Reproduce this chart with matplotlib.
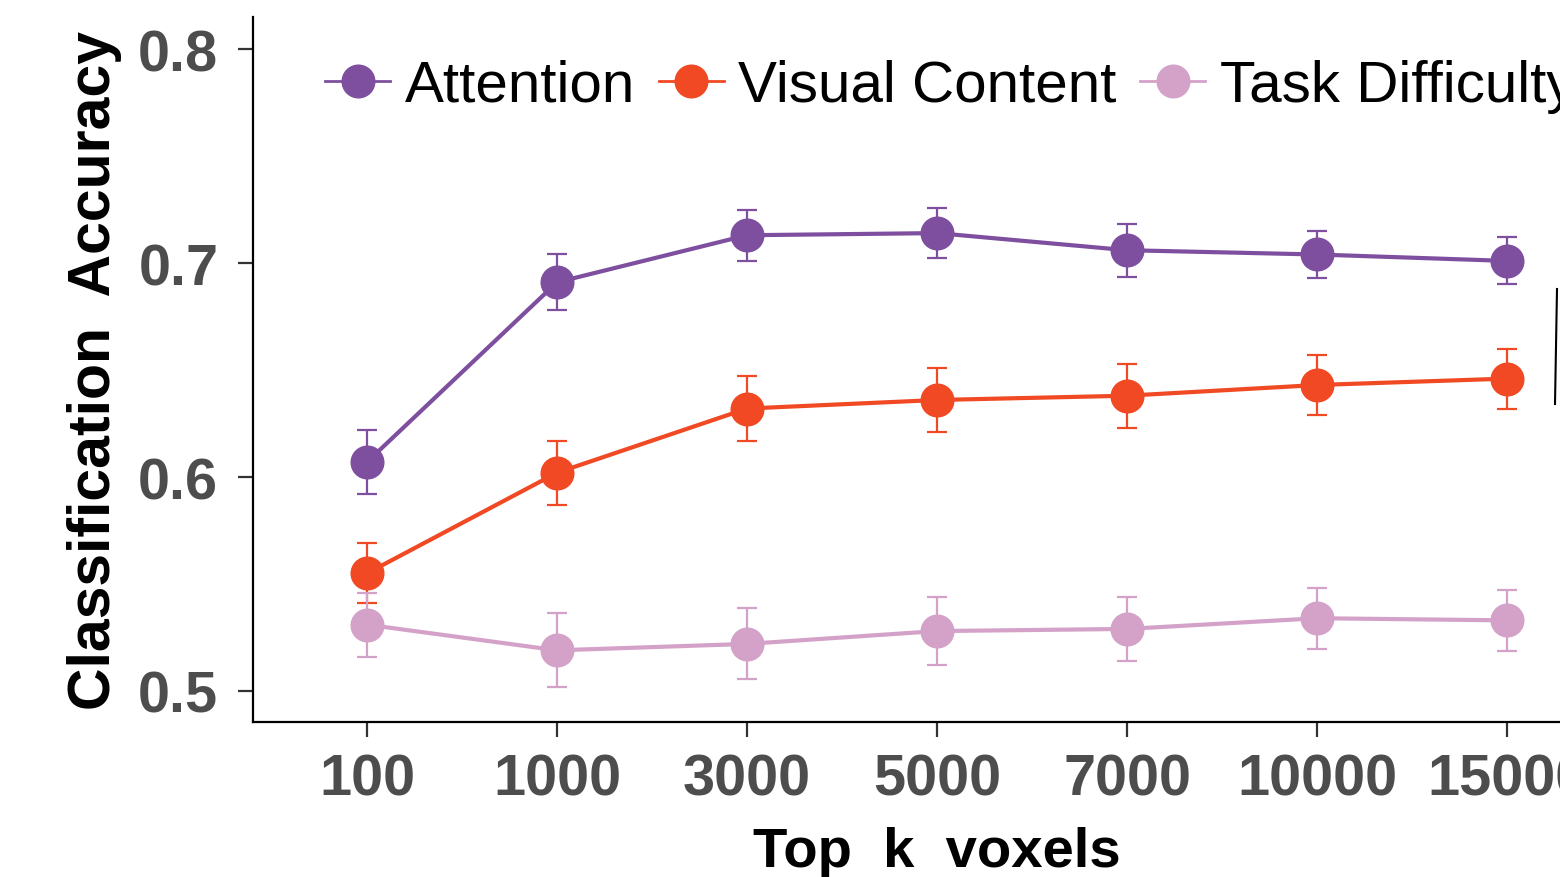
import matplotlib
matplotlib.use("Agg")
import matplotlib.pyplot as plt
from matplotlib.lines import Line2D

plt.rcParams['font.family'] = ['Liberation Sans', 'DejaVu Sans']

# data
k_labels = ["100", "1000", "3000", "5000", "7000", "10000", "15000"]
attention = [0.607, 0.691, 0.713, 0.714, 0.706, 0.704, 0.701]
attention_err = [0.015, 0.013, 0.012, 0.0115, 0.0124, 0.011, 0.011]
visual = [0.555, 0.602, 0.632, 0.636, 0.638, 0.643, 0.646]
visual_err = [0.014, 0.015, 0.015, 0.015, 0.015, 0.014, 0.014]
task = [0.531, 0.519, 0.522, 0.528, 0.529, 0.534, 0.533]
task_err = [0.015, 0.0173, 0.0166, 0.0157, 0.015, 0.0143, 0.0143]

series = [
    ("Attention", attention, attention_err, "#7f4f9f"),
    ("Visual Content", visual, visual_err, "#f04923"),
    ("Task Difficulty", task, task_err, "#d4a2c9"),
]

fig = plt.figure(figsize=(15.6, 8.78), dpi=100)
# axes run past the right edge of the figure, as in the cropped original
ax = fig.add_axes([253 / 1560, 155 / 878, 1368 / 1560, 705 / 878])

x = list(range(len(k_labels)))
for name, vals, errs, col in series:
    ax.errorbar(x, vals, yerr=errs, color=col, lw=3, marker="o", ms=23.5,
                elinewidth=1.6, capsize=7, capthick=1.6, label=name)

ax.set_xlim(-0.6, 6.6)
ax.set_ylim(0.4855, 0.815)
ax.set_yticks([0.5, 0.6, 0.7, 0.8])
ax.set_xticks(x)
ax.set_xticklabels(k_labels)

for s in ["top", "right"]:
    ax.spines[s].set_visible(False)
for s in ["left", "bottom"]:
    ax.spines[s].set_linewidth(1.6)
    ax.spines[s].set_color("black")

ax.tick_params(axis="both", length=11, width=1.6, color="#333333",
               labelsize=41.5, labelcolor="#4d4d4d")
ax.tick_params(axis="x", pad=11)
ax.tick_params(axis="y", pad=14)
for lab in ax.get_xticklabels() + ax.get_yticklabels():
    lab.set_fontweight("bold")

ax.set_xlabel("Top  k  voxels", fontsize=40.5, fontweight="bold")
ax.set_ylabel("Classification  Accuracy", fontsize=42.5, fontweight="bold")
ax.xaxis.set_label_coords(0.5, -0.147)
ax.yaxis.set_label_coords(-0.0958, 0.5)

handles = [Line2D([], [], color=col, lw=2, marker="o", ms=23.5) for _, _, _, col in series]
fig.legend(handles, [s[0] for s in series], loc="upper left",
           bbox_to_anchor=(325 / 1560, 1 - 60 / 878), ncol=3, frameon=False,
           fontsize=42, handlelength=1.12, handletextpad=0.25, columnspacing=0.4,
           borderaxespad=0, borderpad=0)

# stray edge of a neighbouring element at the right border
fig.add_artist(Line2D([1557 / 1560, 1555 / 1560], [1 - 290 / 878, 1 - 405 / 878],
                      color="black", lw=1.5))

fig.savefig("out.png", dpi=100)
